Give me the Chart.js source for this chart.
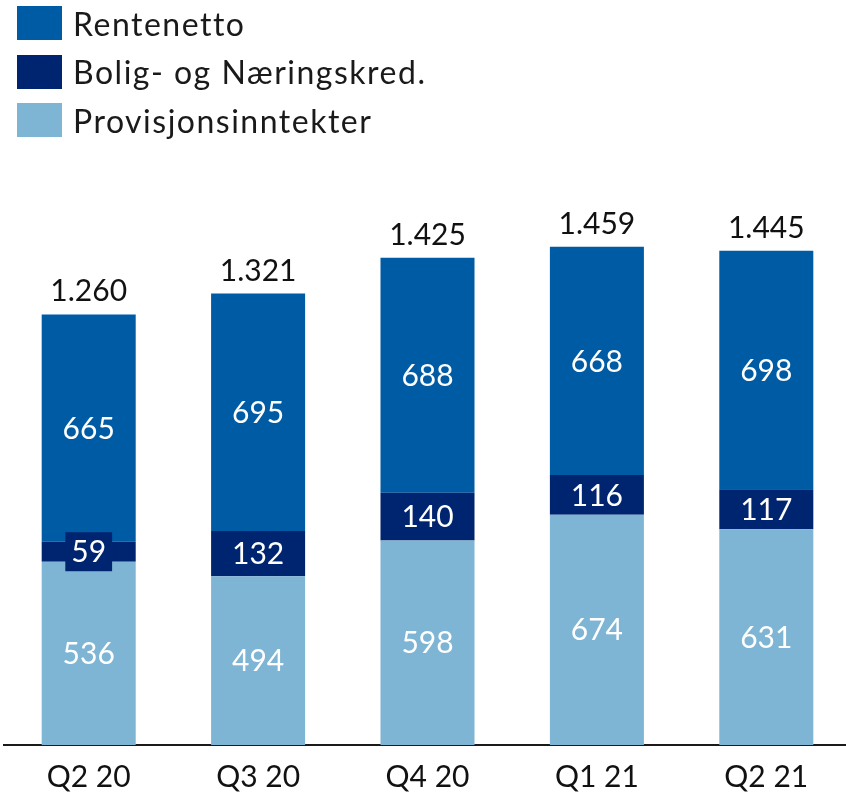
<!DOCTYPE html>
<html>
<head>
<meta charset="utf-8">
<script src="https://cdn.jsdelivr.net/npm/chart.js@4.4.1/dist/chart.umd.min.js"></script>
<style>
  html, body { margin: 0; padding: 0; background: #fff; overflow: hidden; }
  #wrap { position: relative; width: 846px; height: 796px; overflow: hidden; }
  #chart { position: absolute; left: 0; top: 0; }
  #legend { position: absolute; left: 17px; top: 6px; font-family: Lato, sans-serif; font-size: 32px; letter-spacing: 1.5px; color: #1a1a1a; }
  .item { display: flex; align-items: center; height: 34px; margin-bottom: 14.5px; }
  .box { width: 45px; height: 34px; margin-right: 11px; }
</style>
</head>
<body>
<div id="wrap">
  <canvas id="chart" width="851" height="796"></canvas>
  <div id="legend"></div>
</div>
<script>
// Kvartaler og verdier (MNOK)
const quarters = ["Q2 20", "Q3 20", "Q4 20", "Q1 21", "Q2 21"];
const rentenetto = [665, 695, 688, 668, 698];
const boligNaering = [59, 132, 140, 116, 117];
const provisjon = [536, 494, 598, 674, 631];
const totals = [1260, 1321, 1425, 1459, 1445];

const FONT = "Lato, sans-serif";
const fmt = (v) => String(v).replace(/\B(?=(\d{3})+(?!\d))/g, ".");

const labelPlugin = {
  id: "barLabels",
  afterDatasetsDraw(chart) {
    const ctx = chart.ctx;
    ctx.save();
    ctx.textAlign = "center";
    ctx.textBaseline = "middle";
    ctx.font = "30px " + FONT;
    chart.data.datasets.forEach((ds, di) => {
      const meta = chart.getDatasetMeta(di);
      meta.data.forEach((bar, i) => {
        const cy = (bar.y + bar.base) / 2;
        const txt = fmt(ds.data[i]);
        const h = Math.abs(bar.base - bar.y);
        if (h < 36) {
          const w = ctx.measureText(txt).width + 12;
          ctx.fillStyle = ds.backgroundColor;
          ctx.fillRect(bar.x - w / 2, cy - 19.5, w, 39);
        }
        ctx.fillStyle = "#ffffff";
        ctx.fillText(txt, bar.x, cy + 1);
      });
    });
    // totals above the stacks
    const top = chart.getDatasetMeta(chart.data.datasets.length - 1);
    ctx.fillStyle = "#111111";
    ctx.textBaseline = "alphabetic";
    top.data.forEach((bar, i) => {
      ctx.fillText(fmt(totals[i]), bar.x, bar.y - 13);
    });
    ctx.restore();
  },
};

const chart = new Chart(document.getElementById("chart").getContext("2d"), {
  type: "bar",
  data: {
    labels: quarters,
    datasets: [
      { label: "Provisjonsinntekter", data: provisjon, backgroundColor: "#7fb5d4" },
      { label: "Bolig- og Næringskred.", data: boligNaering, backgroundColor: "#002570" },
      { label: "Rentenetto", data: rentenetto, backgroundColor: "#005ba5" },
    ],
  },
  options: {
    responsive: false,
    animation: false,
    layout: { padding: { top: 164, left: 4, right: 0, bottom: 0 } },
    datasets: { bar: { categoryPercentage: 1, barPercentage: 0.555 } },
    plugins: { legend: { display: false }, tooltip: { enabled: false } },
    scales: {
      x: {
        stacked: true,
        grid: { display: false, drawTicks: false },
        border: { display: true, color: "#1a1a1a", width: 2 },
        ticks: { color: "#111111", font: { family: FONT, size: 30 }, padding: 14 },
        afterFit(scale) { scale.height = 51; },
      },
      y: {
        stacked: true,
        display: false,
        min: 0,
        max: 1700,
      },
    },
  },
  plugins: [labelPlugin],
});

// legend, same order as the reference (top segment first)
const legend = document.getElementById("legend");
chart.data.datasets.slice().reverse().forEach((ds) => {
  const row = document.createElement("div");
  row.className = "item";
  const box = document.createElement("span");
  box.className = "box";
  box.style.background = ds.backgroundColor;
  const txt = document.createElement("span");
  txt.textContent = ds.label;
  row.appendChild(box);
  row.appendChild(txt);
  legend.appendChild(row);
});
</script>
</body>
</html>
